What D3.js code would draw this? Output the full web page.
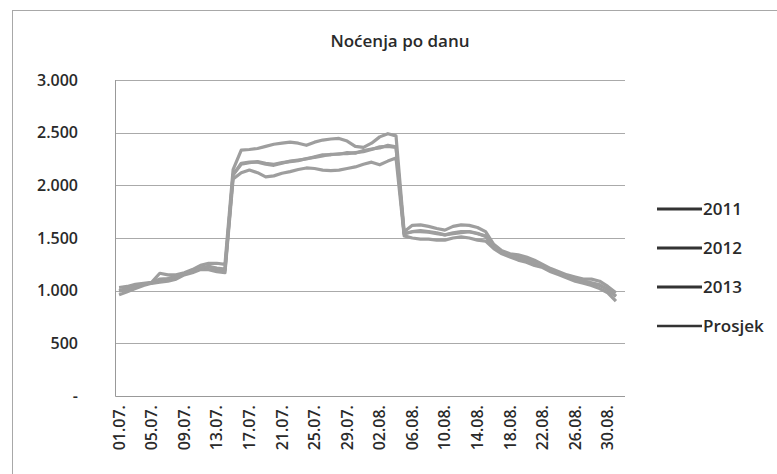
<!DOCTYPE html>
<html>
<head>
<meta charset="utf-8">
<script src="https://cdn.jsdelivr.net/npm/d3@7"></script>
<style>
  body { margin: 0; background: #fff; }
  svg { display: block; font-family: "Open Sans", "Liberation Sans", sans-serif; }
</style>
</head>
<body>
<svg id="chart"></svg>
<script>
// 01.07. .. 31.08.
const days = [];
for (const [m, n] of [["07", 31], ["08", 31]]) {
  for (let d = 1; d <= n; d++) days.push(String(d).padStart(2, "0") + "." + m + ".");
}

const y2011 = [960, 990, 1020, 1050, 1070, 1080, 1090, 1110, 1150, 1170, 1200, 1200, 1180, 1170,
  2060, 2120, 2145, 2120, 2080, 2090, 2115, 2130, 2150, 2165, 2160, 2145, 2140, 2145, 2160, 2175,
  2200, 2220, 2195, 2230, 2260,
  1520, 1500, 1490, 1490, 1480, 1480, 1500, 1510, 1500, 1480, 1470, 1400, 1350, 1320, 1290, 1270,
  1240, 1220, 1180, 1150, 1120, 1090, 1070, 1050, 1020, 980, 900];
const y2012 = [1000, 1020, 1040, 1060, 1075, 1090, 1110, 1140, 1160, 1190, 1210, 1230, 1200, 1190,
  2100, 2210, 2220, 2220, 2200, 2190, 2210, 2230, 2240, 2250, 2270, 2290, 2290, 2300, 2300, 2310,
  2320, 2340, 2365, 2370, 2360,
  1540, 1560, 1570, 1560, 1550, 1530, 1540, 1550, 1560, 1540, 1520, 1420, 1370, 1340, 1310, 1290,
  1270, 1240, 1200, 1160, 1140, 1110, 1090, 1070, 1050, 1010, 950];
const y2013 = [1030, 1040, 1060, 1070, 1080, 1165, 1150, 1150, 1170, 1200, 1240, 1260, 1260, 1250,
  2150, 2335, 2340, 2350, 2370, 2390, 2400, 2410, 2400, 2380, 2410, 2430, 2440, 2445, 2420, 2370,
  2360, 2400, 2460, 2490, 2470,
  1560, 1620, 1625, 1610, 1590, 1575, 1610, 1625, 1620, 1600, 1560, 1440, 1380, 1350, 1340, 1320,
  1290, 1250, 1210, 1180, 1150, 1130, 1110, 1110, 1090, 1040, 980];
const prosjek = [995, 1015, 1040, 1060, 1075, 1110, 1115, 1135, 1160, 1185, 1215, 1230, 1215, 1205,
  2100, 2200, 2215, 2225, 2210, 2200, 2215, 2225, 2235, 2255, 2265, 2280, 2295, 2295, 2310, 2305,
  2330, 2345, 2355, 2380, 2365,
  1540, 1560, 1560, 1555, 1540, 1530, 1550, 1560, 1560, 1545, 1515, 1420, 1365, 1335, 1315, 1295,
  1265, 1235, 1195, 1165, 1135, 1110, 1090, 1075, 1055, 1010, 945];

const seriesNames = ["2011", "2012", "2013", "Prosjek"];
const seriesValues = [y2011, y2012, y2013, prosjek];
const yTicks = [0, 500, 1000, 1500, 2000, 2500, 3000];

const W = 777, H = 474;
const plot = { left: 115, right: 625, top: 80, bottom: 396 };
const ink = "#2a2a2a";

const svg = d3.select("#chart").attr("width", W).attr("height", H);

// outer frame (continues past the window edge)
svg.append("rect")
  .attr("x", 12.5).attr("y", 10.5)
  .attr("width", W + 20).attr("height", H + 20)
  .attr("fill", "none").attr("stroke", "#a8a8a8");

svg.append("text")
  .attr("x", 400).attr("y", 47)
  .attr("text-anchor", "middle")
  .style("font-size", "17px")
  .style("font-weight", 600)
  .style("fill", ink)
  .text("Noćenja po danu");

const x = d3.scaleBand().domain(days).range([plot.left, plot.right - 5]);
const y = d3.scaleLinear().domain([0, 3000]).range([plot.bottom, plot.top]);

// grid lines
svg.append("g")
  .selectAll("line")
  .data(yTicks.filter(t => t > 0))
  .join("line")
  .attr("x1", plot.left).attr("x2", plot.right)
  .attr("y1", d => Math.round(y(d)) + 0.5).attr("y2", d => Math.round(y(d)) + 0.5)
  .attr("stroke", "#aaa");

// y axis labels
const fmt = d => d === 0 ? "-" : d3.format(",")(d).replace(",", ".");
const yAxis = svg.append("g")
  .attr("transform", "translate(78,0)")
  .call(d3.axisLeft(y).tickValues(yTicks).tickSize(0).tickPadding(0).tickFormat(fmt));
yAxis.select(".domain").remove();
yAxis.selectAll("text").style("font-size", "16px").style("font-weight", 600).style("fill", ink)
  .style("font-family", "Open Sans, sans-serif");

// plot area frame (left + bottom)
svg.append("path")
  .attr("d", `M${plot.left + 0.5},${plot.top} V${plot.bottom + 0.5} H${plot.right}`)
  .attr("fill", "none").attr("stroke", "#999");

// x axis labels
const xAxis = svg.append("g")
  .attr("transform", `translate(0,${plot.bottom})`)
  .call(d3.axisBottom(x).tickValues(days.filter((d, i) => i % 4 === 0)).tickSize(0).tickPadding(0));
xAxis.select(".domain").remove();
xAxis.selectAll("text")
  .attr("transform", "rotate(-90)")
  .attr("x", -9).attr("y", 0).attr("dy", "0.35em")
  .attr("text-anchor", "end")
  .style("font-size", "16px").style("font-weight", 600).style("fill", ink)
  .style("font-family", "Open Sans, sans-serif");

// lines
const line = d3.line()
  .x((d, i) => x(days[i]) + x.bandwidth() / 2)
  .y(d => y(d));

svg.append("g")
  .selectAll("path")
  .data(seriesValues)
  .join("path")
  .attr("d", d => line(d))
  .attr("fill", "none")
  .attr("stroke", "#9e9e9e")
  .attr("stroke-width", 3.2)
  .attr("stroke-linejoin", "round");

// legend
const legend = svg.append("g")
  .selectAll("g")
  .data(seriesNames)
  .join("g")
  .attr("transform", (d, i) => `translate(657,${209 + i * 39})`);
legend.append("line")
  .attr("x1", 0).attr("x2", 45)
  .attr("stroke", "#333")
  .attr("stroke-width", (d, i) => i === 3 ? 2.5 : 3);
legend.append("text")
  .attr("x", 46).attr("dy", "0.35em")
  .style("font-size", "17px").style("font-weight", 600).style("fill", ink)
  .text(d => d);
</script>
</body>
</html>
